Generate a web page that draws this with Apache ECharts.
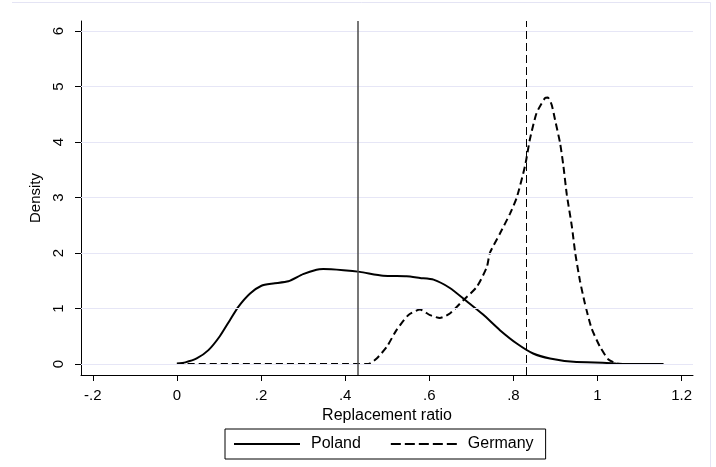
<!DOCTYPE html>
<html>
<head>
<meta charset="utf-8">
<script src="https://cdn.jsdelivr.net/npm/echarts@6/dist/echarts.min.js"></script>
<style>
  html, body { margin: 0; padding: 0; background: #fff; }
  #chart { width: 716px; height: 467px; }
</style>
</head>
<body>
<div id="chart"></div>
<script>
// Kernel density estimates of the replacement ratio
const polandX = [0, 0.02, 0.047, 0.075, 0.102, 0.126, 0.146, 0.174, 0.201, 0.229, 0.265, 0.300, 0.332, 0.348, 0.396, 0.435, 0.49, 0.546, 0.578, 0.610, 0.649, 0.689, 0.728, 0.768, 0.808, 0.847, 0.887, 0.943, 1.022, 1.046, 1.157];
const polandY = [0.01, 0.03, 0.10, 0.25, 0.50, 0.79, 1.03, 1.27, 1.41, 1.45, 1.49, 1.62, 1.70, 1.71, 1.69, 1.66, 1.59, 1.58, 1.55, 1.52, 1.37, 1.13, 0.89, 0.61, 0.37, 0.19, 0.10, 0.04, 0.02, 0.005, 0];

const germanyX = [0, 0.455, 0.475, 0.499, 0.522, 0.550, 0.578, 0.602, 0.625, 0.649, 0.681, 0.713, 0.737, 0.744, 0.768, 0.792, 0.808, 0.828, 0.839, 0.855, 0.875, 0.882, 0.891, 0.899, 0.911, 0.919, 0.927, 0.939, 0.947, 0.958, 0.970, 0.986, 1.006, 1.026, 1.046, 1.06];
const germanyY = [0, 0, 0.10, 0.31, 0.61, 0.88, 0.98, 0.88, 0.83, 0.91, 1.15, 1.39, 1.75, 2.0, 2.35, 2.71, 3.0, 3.58, 4.04, 4.52, 4.79, 4.80, 4.67, 4.40, 3.98, 3.56, 3.05, 2.48, 2.0, 1.51, 1.09, 0.64, 0.31, 0.08, 0.01, 0];

// Mean replacement ratio of each country
const polandMean = 0.4335;
const germanyMean = 0.834;

const xTicks = [-0.2, 0, 0.2, 0.4, 0.6, 0.8, 1, 1.2];
const yTicks = [0, 1, 2, 3, 4, 5, 6];

const font = "'Liberation Sans', Arial, sans-serif";
const zip = (xs, ys) => xs.map((x, i) => [x, ys[i]]);
const stataNum = v => {
  const s = String(Math.round(v * 10) / 10);
  return s.replace(/^0\./, '.').replace(/^-0\./, '-.');
};

const chart = echarts.init(document.getElementById('chart'));
chart.setOption({
  backgroundColor: '#fff',
  animation: false,
  textStyle: { fontFamily: font },
  grid: { left: 81, right: 23, top: 21, bottom: 92 },
  graphic: [
    { type: 'line', shape: { x1: 12, y1: 2.5, x2: 710.5, y2: 2.5 }, style: { stroke: '#e4e4f4', lineWidth: 1 } },
    { type: 'line', shape: { x1: 710.5, y1: 2.5, x2: 710.5, y2: 467 }, style: { stroke: '#e4e4f4', lineWidth: 1 } }
  ],
  xAxis: {
    type: 'value',
    min: -0.228,
    max: 1.227,
    name: 'Replacement ratio',
    nameLocation: 'middle',
    nameGap: 22,
    nameTextStyle: { fontSize: 16, color: '#000', fontFamily: font },
    axisLine: { onZero: false, lineStyle: { color: '#000', width: 1 } },
    axisTick: { show: true, customValues: xTicks, length: 6, lineStyle: { color: '#000' } },
    axisLabel: { customValues: xTicks, margin: 13, fontSize: 15, color: '#000', formatter: stataNum },
    splitLine: { show: false }
  },
  yAxis: {
    type: 'value',
    min: -0.198,
    max: 6.18,
    name: 'Density',
    nameLocation: 'middle',
    nameRotate: 90,
    nameGap: 31,
    nameTextStyle: { fontSize: 15, color: '#000', fontFamily: font },
    axisLine: { show: true, onZero: false, lineStyle: { color: '#000', width: 1 } },
    axisTick: { show: true, customValues: yTicks, length: 6, lineStyle: { color: '#000' } },
    axisLabel: { customValues: yTicks, rotate: 90, margin: 15, fontSize: 15, color: '#000', formatter: stataNum },
    splitLine: { show: false }
  },
  legend: {
    left: 225,
    top: 429,
    orient: 'horizontal',
    borderColor: '#000',
    borderWidth: 1,
    padding: [7, 12, 7, 8],
    itemWidth: 66,
    itemHeight: 14,
    itemGap: 29,
    itemStyle: { opacity: 0 },
    textStyle: { fontSize: 16, color: '#000', fontFamily: font, padding: [0, 0, 0, 6] },
    data: [
      { name: 'Poland' },
      { name: 'Germany', lineStyle: { type: [10, 4], width: 2, color: '#000' } }
    ]
  },
  series: [
    {
      name: 'Poland',
      type: 'line',
      data: zip(polandX, polandY),
      symbol: 'none',
      smooth: 0.2,
      lineStyle: { color: '#000', width: 2, type: 'solid' },
      itemStyle: { color: '#000' },
      z: 3,
      markLine: {
        silent: true,
        symbol: 'none',
        label: { show: false },
        animation: false,
        data: yTicks.map(v => ({ yAxis: v, lineStyle: { color: '#e6e6f6', width: 1, type: 'solid' } }))
          .concat([{ xAxis: polandMean, lineStyle: { color: '#4a4a4a', width: 1.5, type: 'solid' } }])
      }
    },
    {
      name: 'Germany',
      type: 'line',
      data: zip(germanyX, germanyY),
      symbol: 'none',
      smooth: 0.2,
      lineStyle: { color: '#000', width: 2, type: [7, 4] },
      itemStyle: { color: '#000' },
      z: 3,
      markLine: {
        silent: true,
        symbol: 'none',
        label: { show: false },
        animation: false,
        data: [{ xAxis: germanyMean, lineStyle: { color: '#000', width: 1, type: [8, 4] } }]
      }
    }
  ]
});
</script>
</body>
</html>
